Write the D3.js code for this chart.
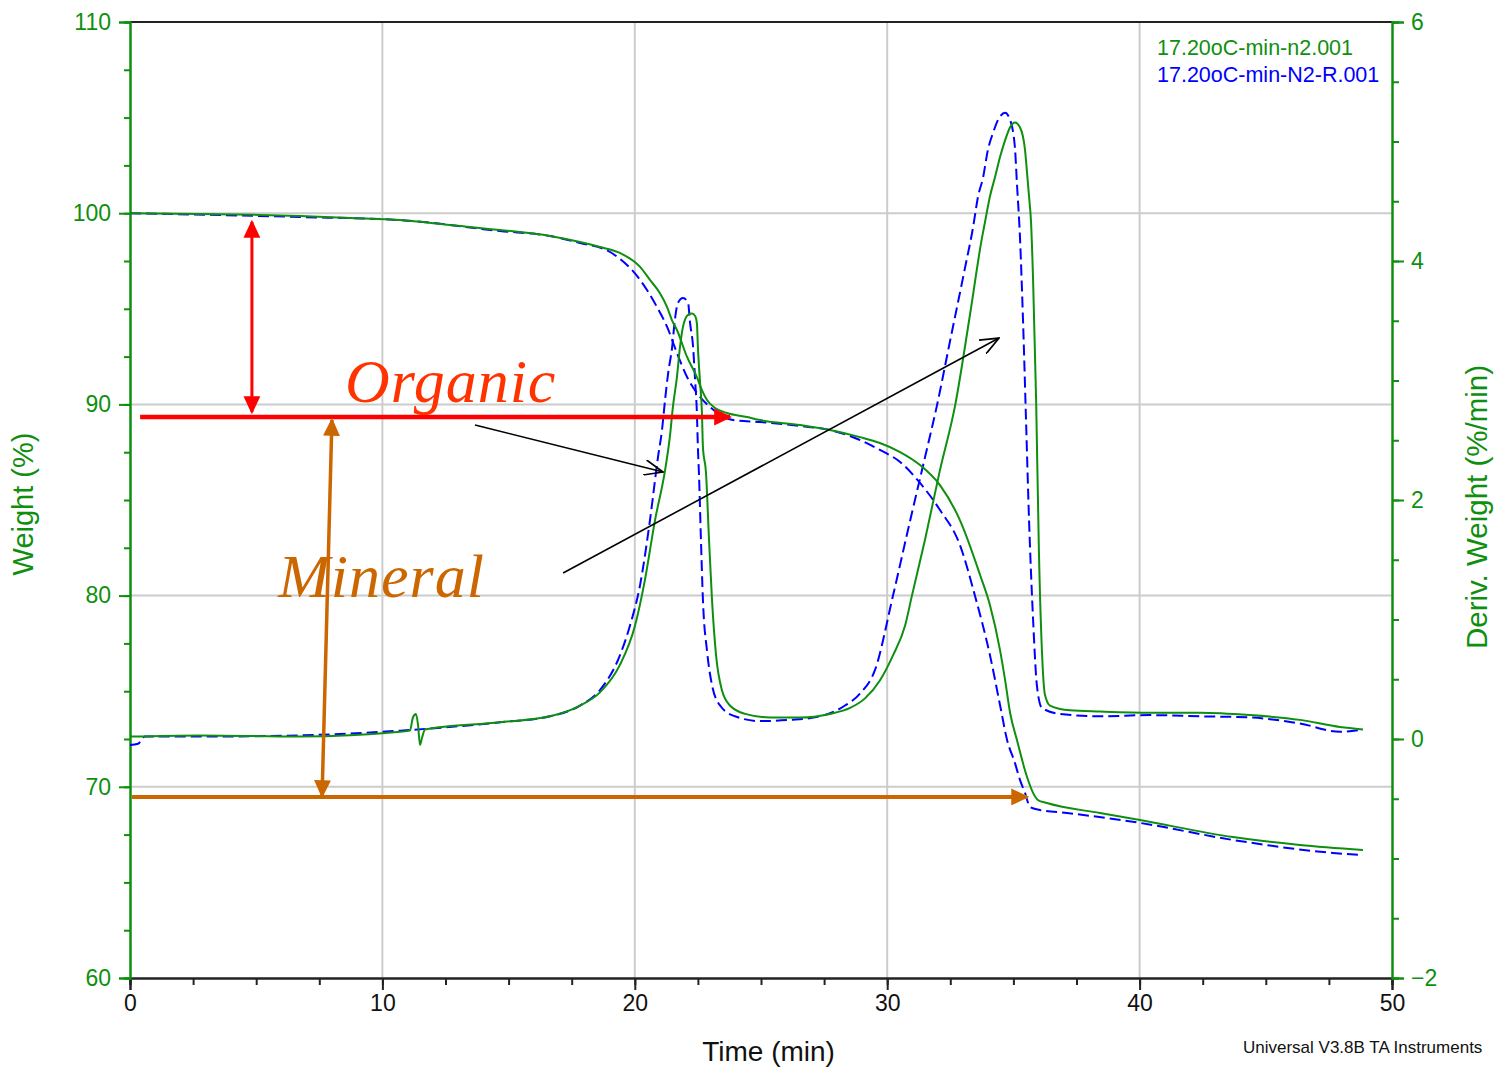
<!DOCTYPE html>
<html>
<head>
<meta charset="utf-8">
<script src="https://cdn.jsdelivr.net/npm/d3@7"></script>
<style>
  body { margin: 0; background: #fff; }
  svg { display: block; font-family: "Liberation Sans", Arial, sans-serif; }
</style>
</head>
<body>
<svg id="chart" width="1494" height="1068"></svg>
<script>
// TGA run, two files. time in min, weight in %, derivative in %/min
var greenWeightTime = [0,2.77,5.15,6.74,8.72,10.70,12.68,14.66,16.64,17.83,18.62,19.41,20.21,20.60,20.99,21.28,21.47,21.67,
  22.07,22.46,22.66,22.86,23.18,23.65,24.45,24.96,26.55,27.73,28.92,29.71,30.51,31.30,32.09,32.88,33.68,
  34.07,34.47,34.67,34.87,35.14,35.54,35.78,35.97,36.33,38.43,40.02,43.70,46.35,48.85];
var greenWeight = [100.0,99.96,99.91,99.85,99.75,99.64,99.38,99.12,98.81,98.49,98.23,97.92,97.19,96.51,95.83,95.09,94.41,93.89,
  92.48,91.43,90.75,90.23,89.81,89.55,89.34,89.18,88.92,88.66,88.29,87.98,87.51,86.83,85.78,83.95,81.08,
  79.51,77.15,75.59,73.86,72.45,70.51,69.68,69.31,69.15,68.63,68.26,67.37,66.96,66.70];

var blueWeightTime = [0,6.74,10.70,14.66,16.64,17.83,19.02,20.21,20.88,21.28,21.67,22.07,22.46,22.98,23.89,
  24.96,26.55,27.73,28.92,29.71,30.51,31.30,32.09,32.88,33.48,34.07,34.47,34.75,35.06,35.26,
  35.46,35.66,36.05,37.12,40.02,43.70,47.66,48.85];
var blueWeight = [100.0,99.80,99.64,99.07,98.81,98.44,97.97,96.51,95.09,94.05,92.69,91.43,90.60,89.86,89.18,
  89.08,88.87,88.66,88.14,87.62,86.99,85.89,84.48,82.65,79.98,76.89,74.28,72.45,71.25,70.36,
  69.68,68.94,68.79,68.63,68.11,67.22,66.54,66.43];

var greenDerivTime = [0,2.77,6.74,10.70,11.09,11.21,11.33,11.41,11.49,11.57,11.69,14.66,16.64,17.83,18.62,19.41,
  20.01,20.40,20.80,21.20,21.39,21.51,21.67,21.79,21.91,22.11,22.27,22.39,22.46,22.50,22.58,
  22.66,22.70,22.82,22.94,23.06,23.22,23.45,23.77,24.37,25.36,26.55,27.73,28.53,29.12,29.71,
  30.23,30.71,30.98,31.50,32.09,32.69,33.28,33.76,33.87,34.07,34.27,34.47,34.67,34.87,35.06,
  35.26,35.46,35.54,35.62,35.70,35.78,35.90,36.01,36.13,36.25,36.45,37.24,38.43,40.41,42.39,
  44.37,46.35,47.94,48.85];
var greenDeriv = [0.02,0.03,0.02,0.06,0.07,0.18,0.21,0.12,-0.05,0.01,0.08,0.14,0.19,0.28,0.39,0.62,
  0.95,1.33,1.83,2.25,2.53,2.78,3.03,3.28,3.45,3.55,3.56,3.54,3.48,3.28,3.00,
  2.73,2.44,2.23,1.67,1.16,0.70,0.41,0.28,0.21,0.18,0.18,0.21,0.26,0.34,0.49,
  0.70,0.95,1.20,1.67,2.25,2.79,3.55,4.20,4.32,4.54,4.70,4.87,5.01,5.12,5.16,
  5.12,4.93,4.74,4.54,4.32,3.84,2.84,1.58,0.74,0.37,0.28,0.24,0.23,0.22,0.22,
  0.20,0.16,0.10,0.08];

var blueDerivTime = [0,0.32,0.59,2.77,6.74,10.70,14.66,16.64,17.83,18.62,19.41,19.81,20.21,20.60,20.92,
  21.08,21.20,21.32,21.48,21.59,21.71,21.91,22.11,22.19,22.31,22.39,22.46,22.50,22.54,22.62,
  22.70,22.86,23.06,23.38,23.97,24.96,26.15,27.34,28.33,28.92,29.52,30.23,30.90,31.50,31.97,
  32.49,33.08,33.40,33.60,33.80,33.99,34.19,34.39,34.67,34.87,35.06,35.14,35.26,35.38,35.50,
  35.62,35.78,35.93,36.13,36.85,38.43,40.41,42.39,44.37,46.35,47.94,48.85];
var blueDeriv = [-0.05,-0.04,0.02,0.02,0.03,0.07,0.14,0.19,0.28,0.41,0.70,0.95,1.29,1.83,2.36,
  2.59,2.84,3.06,3.28,3.51,3.65,3.69,3.65,3.48,3.28,3.00,2.73,2.44,2.23,1.67,
  1.16,0.74,0.45,0.28,0.19,0.15,0.16,0.19,0.28,0.38,0.58,1.20,1.82,2.36,2.79,
  3.33,3.94,4.28,4.54,4.70,4.93,5.07,5.18,5.24,5.18,4.95,4.65,4.20,3.51,2.67,
  1.83,1.00,0.45,0.26,0.21,0.19,0.20,0.19,0.18,0.13,0.06,0.08];

var legendNames = ["17.20oC-min-n2.001", "17.20oC-min-N2-R.001"];
var xTicks = [0, 10, 20, 30, 40, 50];
var yLeftTicks = [60, 70, 80, 90, 100, 110];
var yRightTicks = [-2, 0, 2, 4, 6];

// annotation arrows, [time, weight] endpoints
var organicSpan = [[4.83, 99.54], [4.83, 89.60]];
var organicLevel = [[0.40, 89.34], [23.77, 89.34]];
var mineralSpan = [[8.00, 89.18], [7.61, 69.52]];
var mineralLevel = [[0.08, 69.47], [35.54, 69.47]];
var pointerFirst = [[13.67, 88.92], [21.12, 86.46]];
var pointerSecond = [[17.16, 81.18], [34.43, 93.47]];
var labelOrganic = [8.52, 90.13];
var labelMineral = [5.87, 79.93];

var green = "#0f8f0f";
var blue = "#0000ff";
var red = "#ff0000";
var orange = "#cc6600";

var plotLeft = 130, plotRight = 1392, plotTop = 22, plotBottom = 978;

var svg = d3.select("#chart");

var x = d3.scaleLinear().domain([0, 50]).range([plotLeft, plotRight]);
var yW = d3.scaleLinear().domain([60, 110]).range([plotBottom, plotTop]);
var yD = d3.scaleLinear().domain([-2, 6]).range([plotBottom, plotTop]);

// grid
svg.append("g").selectAll("line").data([10, 20, 30, 40]).enter()
  .append("line")
  .attr("x1", function(d) { return x(d); })
  .attr("x2", function(d) { return x(d); })
  .attr("y1", plotTop).attr("y2", plotBottom)
  .attr("stroke", "#cccccc").attr("stroke-width", 2);
svg.append("g").selectAll("line").data([70, 80, 90, 100]).enter()
  .append("line")
  .attr("x1", plotLeft).attr("x2", plotRight)
  .attr("y1", function(d) { return yW(d); })
  .attr("y2", function(d) { return yW(d); })
  .attr("stroke", "#cccccc").attr("stroke-width", 2);

// frame top
svg.append("line").attr("x1", plotLeft).attr("x2", plotRight).attr("y1", plotTop).attr("y2", plotTop)
  .attr("stroke", "#222").attr("stroke-width", 2);

function minors(lo, hi, step) {
  var out = [];
  for (var v = lo; v <= hi + 1e-9; v += step) out.push(+v.toFixed(3));
  return out;
}

// bottom axis
var xMinor = svg.append("g").attr("transform", "translate(0," + plotBottom + ")")
  .call(d3.axisBottom(x).tickValues(minors(0, 50, 2.5)).tickSize(7).tickFormat(""));
var xAxis = svg.append("g").attr("transform", "translate(0," + plotBottom + ")")
  .call(d3.axisBottom(x).tickValues(xTicks).tickSize(12).tickPadding(5).tickFormat(d3.format("d")));
[xMinor, xAxis].forEach(function(g) {
  g.select(".domain").attr("stroke", "#222").attr("stroke-width", 2);
  g.selectAll(".tick line").attr("stroke", "#222").attr("stroke-width", 2);
});
xAxis.selectAll("text").attr("fill", "#111").attr("font-size", 23).attr("font-family", "Liberation Sans, Arial, sans-serif");

// left axis
var yMinor = svg.append("g").attr("transform", "translate(" + plotLeft + ",0)")
  .call(d3.axisLeft(yW).tickValues(minors(60, 110, 2.5)).tickSize(6).tickFormat(""));
var yAxis = svg.append("g").attr("transform", "translate(" + plotLeft + ",0)")
  .call(d3.axisLeft(yW).tickValues(yLeftTicks).tickSize(11).tickPadding(8));
[yMinor, yAxis].forEach(function(g) {
  g.select(".domain").attr("stroke", green).attr("stroke-width", 2);
  g.selectAll(".tick line").attr("stroke", green).attr("stroke-width", 2);
});
yAxis.selectAll("text").attr("fill", green).attr("font-size", 23).attr("font-family", "Liberation Sans, Arial, sans-serif");

// right axis
var rMinor = svg.append("g").attr("transform", "translate(" + plotRight + ",0)")
  .call(d3.axisRight(yD).tickValues(minors(-2, 6, 0.5)).tickSize(7).tickFormat(""));
var rAxis = svg.append("g").attr("transform", "translate(" + plotRight + ",0)")
  .call(d3.axisRight(yD).tickValues(yRightTicks).tickSize(12).tickPadding(7).tickFormat(d3.format("d")));
[rMinor, rAxis].forEach(function(g) {
  g.select(".domain").attr("stroke", green).attr("stroke-width", 2);
  g.selectAll(".tick line").attr("stroke", green).attr("stroke-width", 2);
});
rAxis.selectAll("text").attr("fill", green).attr("font-size", 23).attr("font-family", "Liberation Sans, Arial, sans-serif");

// axis titles
svg.append("text").attr("x", x(25.3)).attr("y", 1061).attr("text-anchor", "middle")
  .attr("font-size", 28).attr("fill", "#111").text("Time (min)");
svg.append("text").attr("transform", "translate(33," + 504 + ") rotate(-90)")
  .attr("text-anchor", "middle").attr("font-size", 29).attr("fill", green).text("Weight (%)");
svg.append("text").attr("transform", "translate(1487," + 507 + ") rotate(-90)")
  .attr("text-anchor", "middle").attr("font-size", 29.5).attr("fill", green).text("Deriv. Weight (%/min)");

// curves
var lineW = d3.line().curve(d3.curveMonotoneX)
  .x(function(d) { return x(d[0]); }).y(function(d) { return yW(d[1]); });
var lineD = d3.line().curve(d3.curveMonotoneX)
  .x(function(d) { return x(d[0]); }).y(function(d) { return yD(d[1]); });

var curves = svg.append("g");
curves.append("path").datum(d3.zip(blueWeightTime, blueWeight)).attr("d", lineW)
  .attr("fill", "none").attr("stroke", blue).attr("stroke-width", 2).attr("stroke-dasharray", "11,5");
curves.append("path").datum(d3.zip(blueDerivTime, blueDeriv)).attr("d", lineD)
  .attr("fill", "none").attr("stroke", blue).attr("stroke-width", 2).attr("stroke-dasharray", "11,5");
curves.append("path").datum(d3.zip(greenWeightTime, greenWeight)).attr("d", lineW)
  .attr("fill", "none").attr("stroke", green).attr("stroke-width", 2);
curves.append("path").datum(d3.zip(greenDerivTime, greenDeriv)).attr("d", lineD)
  .attr("fill", "none").attr("stroke", green).attr("stroke-width", 2);

// legend
svg.append("text").attr("x", 1157).attr("y", 55).attr("font-size", 21.5).attr("fill", green).text(legendNames[0]);
svg.append("text").attr("x", 1157).attr("y", 82).attr("font-size", 21.5).attr("fill", blue).text(legendNames[1]);

svg.append("text").attr("x", 1243).attr("y", 1053).attr("font-size", 17).attr("fill", "#111")
  .text("Universal V3.8B TA Instruments");

// arrow markers
var defs = svg.append("defs");
function solidHead(id, color, len, wid) {
  defs.append("marker").attr("id", id).attr("markerUnits", "userSpaceOnUse")
    .attr("markerWidth", len + 2).attr("markerHeight", wid + 2)
    .attr("viewBox", "0 0 " + len + " " + wid)
    .attr("refX", len - 2).attr("refY", wid / 2).attr("orient", "auto-start-reverse")
    .append("path").attr("d", "M0,0 L" + len + "," + (wid / 2) + " L0," + wid + " Z").attr("fill", color);
}
solidHead("headRed", red, 16, 15);
solidHead("headOrange", orange, 16, 15);
defs.append("marker").attr("id", "headOpen").attr("markerUnits", "userSpaceOnUse")
  .attr("markerWidth", 20).attr("markerHeight", 16).attr("viewBox", "0 0 18 14")
  .attr("refX", 17).attr("refY", 7).attr("orient", "auto")
  .append("path").attr("d", "M0,0 L17,7 L0,14").attr("fill", "none").attr("stroke", "#000").attr("stroke-width", 1.5);

function arrow(pts, color, width, head, both) {
  var l = svg.append("line")
    .attr("x1", x(pts[0][0])).attr("y1", yW(pts[0][1]))
    .attr("x2", x(pts[1][0])).attr("y2", yW(pts[1][1]))
    .attr("stroke", color).attr("stroke-width", width)
    .attr("marker-end", "url(#" + head + ")");
  if (both) l.attr("marker-start", "url(#" + head + ")");
}
arrow(organicLevel, red, 4.5, "headRed", false);
arrow(organicSpan, red, 3, "headRed", true);
arrow(mineralLevel, orange, 4, "headOrange", false);
arrow(mineralSpan, orange, 3.5, "headOrange", true);
arrow(pointerFirst, "#000", 1.6, "headOpen", false);
arrow(pointerSecond, "#000", 1.6, "headOpen", false);

svg.append("text").attr("x", x(labelOrganic[0])).attr("y", yW(labelOrganic[1]))
  .attr("font-family", "Liberation Serif, Times New Roman, serif").attr("font-style", "italic")
  .attr("font-size", 62).attr("letter-spacing", 1).attr("fill", "#ff3300").text("Organic");
svg.append("text").attr("x", x(labelMineral[0])).attr("y", yW(labelMineral[1]))
  .attr("font-family", "Liberation Serif, Times New Roman, serif").attr("font-style", "italic")
  .attr("font-size", 62).attr("letter-spacing", 1).attr("fill", orange).text("Mineral");
</script>
</body>
</html>
